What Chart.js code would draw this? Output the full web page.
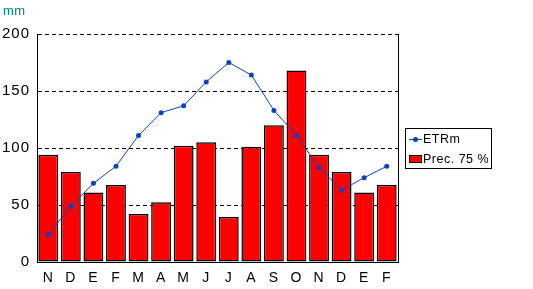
<!DOCTYPE html>
<html>
<head>
<meta charset="utf-8">
<script src="https://cdn.jsdelivr.net/npm/chart.js@4"></script>
<style>
html,body{margin:0;padding:0;background:#fff;}
#wrap{position:relative;width:533px;height:289px;}
</style>
</head>
<body>
<div id="wrap"><canvas id="c" width="533" height="289"></canvas></div>
<script>
const months = ["N","D","E","F","M","A","M","J","J","A","S","O","N","D","E","F"];
const etrm = [24, 49, 69, 84, 111, 131, 137, 158, 175, 164, 133, 111, 83, 63, 74, 84];
const prec75 = [94, 79, 61, 67.5, 42, 52.5, 102, 105, 39.5, 101, 120, 168, 94, 79, 61, 67.5];
const yTicks = [0, 50, 100, 150, 200];
const unitLabel = "mm";
const seriesNames = ["ETRm", "Prec. 75 %"];

const FONT = "'Liberation Sans', Arial, sans-serif";

const extras = {
  id: 'extras',
  beforeDraw(chart) {
    chart.ctx.letterSpacing = '1px';
  },
  afterDraw(chart) {
    const ctx = chart.ctx;
    const a = chart.chartArea;
    ctx.save();
    ctx.letterSpacing = '0.5px';
    // right border
    ctx.strokeStyle = '#000';
    ctx.lineWidth = 1;
    ctx.setLineDash([]);
    ctx.beginPath();
    ctx.moveTo(Math.round(a.right) + 0.5, a.top);
    ctx.lineTo(Math.round(a.right) + 0.5, a.bottom);
    ctx.stroke();
    // unit label
    ctx.fillStyle = '#008080';
    ctx.font = '13px ' + FONT;
    ctx.textBaseline = 'alphabetic';
    ctx.textAlign = 'left';
    ctx.fillText(unitLabel, 3, 15);
    // legend
    const lx = 405.5, ly = 128.5, lw = 86, lh = 40;
    ctx.strokeStyle = '#000';
    ctx.strokeRect(lx, ly, lw, lh);
    const ds0 = chart.data.datasets[0], ds1 = chart.data.datasets[1];
    // line symbol
    ctx.strokeStyle = ds0.borderColor;
    ctx.beginPath();
    ctx.moveTo(409, 139.5);
    ctx.lineTo(422, 139.5);
    ctx.stroke();
    ctx.fillStyle = ds0.backgroundColor;
    ctx.beginPath();
    ctx.arc(415.5, 139.5, 2.5, 0, Math.PI * 2);
    ctx.fill();
    // bar swatch
    ctx.fillStyle = ds1.backgroundColor;
    ctx.fillRect(409.5, 155.5, 12, 7);
    ctx.strokeStyle = '#000';
    ctx.strokeRect(409.5, 155.5, 12, 7);
    ctx.fillStyle = '#000';
    ctx.font = '12.5px ' + FONT;
    ctx.textBaseline = 'middle';
    ctx.fillText(ds0.label, 423, 140);
    ctx.fillText(ds1.label, 423, 160);
    ctx.restore();
  }
};

new Chart(document.getElementById('c'), {
  data: {
    labels: months,
    datasets: [
      {
        type: 'line',
        label: seriesNames[0],
        data: etrm,
        borderColor: '#1040c0',
        backgroundColor: '#1040c0',
        borderWidth: 1,
        pointRadius: 2.5,
        pointHoverRadius: 2.5,
        pointBorderWidth: 0,
        tension: 0,
        order: 0
      },
      {
        type: 'bar',
        label: seriesNames[1],
        data: prec75,
        backgroundColor: '#ff0000',
        borderColor: '#000000',
        borderWidth: 1.5,
        borderSkipped: false,
        barPercentage: 0.88,
        categoryPercentage: 1,
        order: 1
      }
    ]
  },
  plugins: [extras],
  options: {
    responsive: false,
    animation: false,
    events: [],
    layout: { padding: { top: 34, right: 135, left: 0, bottom: 0 } },
    plugins: { legend: { display: false }, tooltip: { enabled: false } },
    scales: {
      x: {
        offset: true,
        grid: { display: false, drawTicks: false },
        border: { display: true, color: '#000', width: 1 },
        ticks: { color: '#000', font: { family: FONT, size: 14 }, padding: 8, maxRotation: 0, autoSkip: false },
        afterFit(s) { s.height = 27; }
      },
      y: {
        min: 0,
        max: 200,
        afterBuildTicks(s) { s.ticks = yTicks.map(v => ({ value: v })); },
        grid: { color: '#000', lineWidth: 1, drawTicks: false },
        border: { display: true, color: '#000', width: 1, dash: [4, 3] },
        ticks: { color: '#000', font: { family: FONT, size: 15 }, padding: 7 },
        afterFit(s) { s.width = 37; }
      }
    }
  }
});
</script>
</body>
</html>
